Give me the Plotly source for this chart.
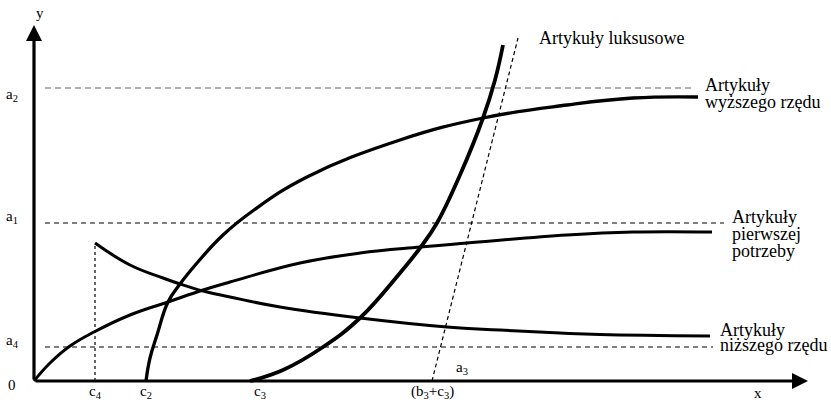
import plotly.graph_objects as go

# ---- data (units: arbitrary, origin at axes crossing) ----
# Artykuły wyższego rzędu
W_x = [11.2, 11.6, 12.3, 13.4, 14.6, 16.3, 18.9, 22.0, 27.3, 36.6, 44.9, 53.3, 59.9, 66.4]
W_y = [0.0, 2.3, 4.6, 7.9, 9.7, 11.8, 14.6, 17.1, 20.4, 24.1, 26.3, 27.6, 28.3, 28.4]
# Artykuły pierwszej potrzeby
P_x = [0.0, 1.6, 3.6, 6.0, 9.6, 13.4, 16.9, 19.6, 26.6, 32.6, 38.6, 43.3, 53.3, 59.9, 67.8]
P_y = [0.0, 1.8, 3.5, 4.9, 6.6, 7.9, 9.1, 9.9, 11.8, 12.8, 13.4, 13.8, 14.6, 14.9, 14.9]
# Artykuły niższego rzędu
N_x = [6.1, 9.6, 12.9, 14.6, 16.9, 19.6, 24.6, 32.6, 41.3, 46.6, 52.6, 56.6, 67.6]
N_y = [13.8, 11.6, 10.3, 9.7, 9.0, 8.4, 7.4, 6.3, 5.4, 5.1, 4.8, 4.65, 4.5]
# Artykuły luksusowe
L_x = [21.6, 24.9, 28.9, 32.6, 36.6, 38.6, 40.3, 42.6, 44.9, 46.1, 46.9]
L_y = [0.0, 1.1, 3.4, 6.3, 10.8, 13.3, 15.8, 20.6, 26.3, 30.1, 33.6]
# asymptote of luxury goods (a3)
A3_x = [39.8, 48.4]
A3_y = [0.0, 34.3]
# levels a2, a1, a4 and point c4
a_levels = [29.3, 15.8, 3.4]
a_level_end = [66.1, 69.0, 67.9]
a_level_start = 1.1
c4 = 6.1
c4_top = 13.8

# tick labels
y_labels = ["a<sub>2</sub>", "a<sub>1</sub>", "a<sub>4</sub>", "0"]
y_label_pos = [28.6, 16.4, 4.0, -0.4]
x_labels = ["c<sub>4</sub>", "c<sub>2</sub>", "c<sub>3</sub>", "(b<sub>3</sub>+c<sub>3</sub>)"]
x_label_pos = [6.1, 11.2, 22.6, 39.8]

# axis extents
x_axis_end = 77.4
y_axis_end = 35.6

serif = "Liberation Serif"
fig = go.Figure()

# dashed level lines
dash_styles = ["6px,4px", "5px,4px", "5px,4px"]
dash_colors = ["#666666", "black", "black"]
for lvl, end, ds, dc in zip(a_levels, a_level_end, dash_styles, dash_colors):
    fig.add_trace(go.Scatter(x=[a_level_start, end], y=[lvl, lvl], mode="lines",
                             line=dict(color=dc, width=1.2, dash=ds), hoverinfo="skip"))
# c4 dotted
fig.add_trace(go.Scatter(x=[c4, c4], y=[0, c4_top], mode="lines",
                         line=dict(color="black", width=1.2, dash="3px,3px"), hoverinfo="skip"))
# a3 asymptote
fig.add_trace(go.Scatter(x=A3_x, y=A3_y, mode="lines",
                         line=dict(color="black", width=1.2, dash="4px,3px"), hoverinfo="skip"))

# curves
for xs, ys, w in [(P_x, P_y, 3), (N_x, N_y, 3), (W_x, W_y, 3.3), (L_x, L_y, 3.8)]:
    fig.add_trace(go.Scatter(x=xs, y=ys, mode="lines",
                             line=dict(color="black", width=w, shape="spline", smoothing=1.2),
                             hoverinfo="skip"))

annotations = []
# axes with arrows
annotations.append(dict(x=x_axis_end, y=0, ax=0, ay=0, xref="x", yref="y", axref="x", ayref="y",
                        text="", showarrow=True, arrowhead=2, arrowsize=1.0, arrowwidth=3.2,
                        arrowcolor="black"))
annotations.append(dict(x=0, y=y_axis_end, ax=0, ay=0, xref="x", yref="y", axref="x", ayref="y",
                        text="", showarrow=True, arrowhead=2, arrowsize=1.0, arrowwidth=3.2,
                        arrowcolor="black"))

lab_font = dict(family=serif, size=15, color="black")
for t, yv in zip(y_labels, y_label_pos):
    annotations.append(dict(x=-2.2, y=yv, text=t, showarrow=False, font=lab_font,
                            xanchor="center", yanchor="middle"))
for t, xv in zip(x_labels, x_label_pos):
    annotations.append(dict(x=xv, y=-1.1, text=t, showarrow=False, font=lab_font,
                            xanchor="center", yanchor="middle"))
annotations.append(dict(x=72.4, y=-1.2, text="x", showarrow=False, font=lab_font))
annotations.append(dict(x=0.6, y=36.8, text="y", showarrow=False, font=lab_font))
annotations.append(dict(x=42.8, y=1.3, text="a<sub>3</sub>", showarrow=False, font=lab_font))

big_font = dict(family=serif, size=18, color="black")
curve_labels = [
    (50.3, [34.3], ["Artykuły luksusowe"]),
    (66.9, [29.6, 27.9], ["Artykuły", "wyższego rzędu"]),
    (69.6, [16.4, 14.7, 13.0], ["Artykuły", "pierwszej", "potrzeby"]),
    (68.4, [5.1, 3.6], ["Artykuły", "niższego rzędu"]),
]
for xv, ys, texts in curve_labels:
    for yv, t in zip(ys, texts):
        annotations.append(dict(x=xv, y=yv, text=t, showarrow=False, font=big_font,
                                xanchor="left", yanchor="middle"))

fig.update_layout(
    width=831, height=402,
    margin=dict(l=0, r=0, t=0, b=0),
    paper_bgcolor="white", plot_bgcolor="white",
    showlegend=False,
    xaxis=dict(range=[-3.4, 79.7], visible=False, fixedrange=True),
    yaxis=dict(range=[-2.1, 38.1], visible=False, fixedrange=True),
    annotations=annotations,
)

fig.write_html("out.html", config={"displayModeBar": False},
               post_script="document.body.style.margin='0px';document.body.style.overflow='hidden';")
